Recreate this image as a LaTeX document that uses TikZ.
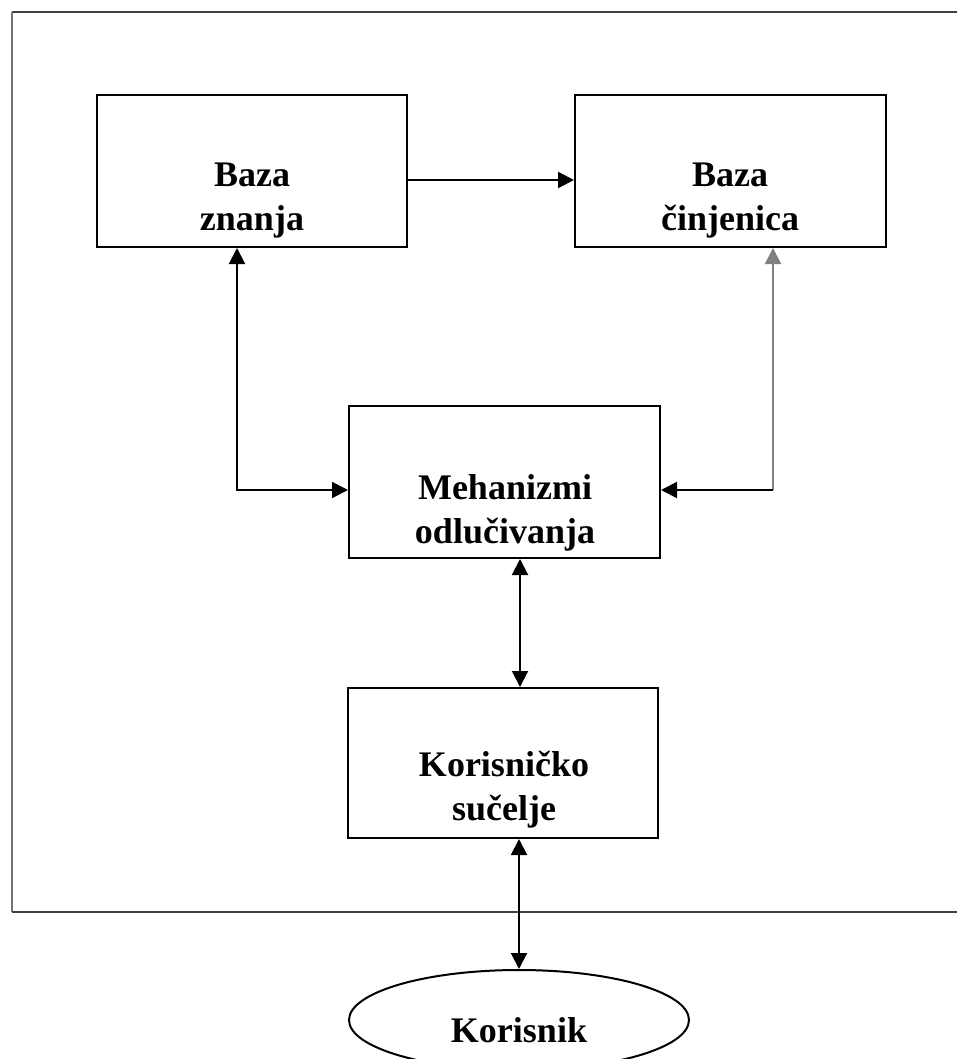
\documentclass[tikz,border=0pt]{standalone}
\usepackage{fontspec}
\setmainfont{Liberation Serif}
\usetikzlibrary{arrows.meta,shapes.geometric}
\begin{document}
\begin{tikzpicture}[x=1pt,y=-1pt,
  blk/.style={draw=black,line width=2pt,rectangle,inner sep=0pt},
  lbl/.style={align=center,font=\fontsize{36}{44}\selectfont\bfseries,inner sep=0pt},
  conn/.style={line width=2pt,{Triangle[length=16pt,width=16pt]}-{Triangle[length=16pt,width=16pt]}},
  oneway/.style={line width=2pt,-{Triangle[length=16pt,width=16pt]}},
  frameline/.style={line width=2pt,draw=black!75}]
\useasboundingbox (0,0) rectangle (957,1059);
\begin{scope}
\clip (0,0) rectangle (957,1059);
% outer frame (open on the right)
\draw[frameline] (958,12) -- (12,12);
\draw[line width=2pt,draw=black!55] (12,12) -- (12,912);
\draw[frameline] (12,912) -- (958,912);
% boxes
\node[blk,minimum width=310,minimum height=152] (bz) at (252,171) {};
\node[blk,minimum width=311,minimum height=152] (bc) at (730.5,171) {};
\node[blk,minimum width=311,minimum height=152] (me) at (504.5,482) {};
\node[blk,minimum width=310,minimum height=150] (ks) at (503,763) {};
\node[draw=black,line width=2pt,ellipse,minimum width=340,minimum height=100,inner sep=0pt] (ko) at (519,1020) {};
% labels
\node[lbl] (tbz) at (252,201) {Baza\\znanja};
\node[lbl] (tbc) at (730,201) {Baza\\činjenica};
\node[lbl] (tme) at (505,513) {Mehanizmi\\odlučivanja};
\node[lbl] (tks) at (504,790) {Korisničko\\sučelje};
\node[lbl] (tko) at (519,1030) {Korisnik};
% connectors
\coordinate (cl) at (237,490);
\coordinate (cr) at (773,490);
\draw[oneway] (bz.east |- 0,180) -- (bc.west |- 0,180);
\draw[conn] (bz.south -| cl) -- (cl) -- (me.west |- cl);
\draw[line width=2pt,draw=black!50,{Triangle[length=16pt,width=16pt]}-] (bc.south -| cr) -- (cr);
\draw[oneway] (cr) -- (me.east |- cr);
\draw[conn] (me.south -| 520,0) -- (ks.north -| 520,0);
\draw[conn] (ks.south -| 519,0) -- (ko.north);
\end{scope}
\end{tikzpicture}
\end{document}
